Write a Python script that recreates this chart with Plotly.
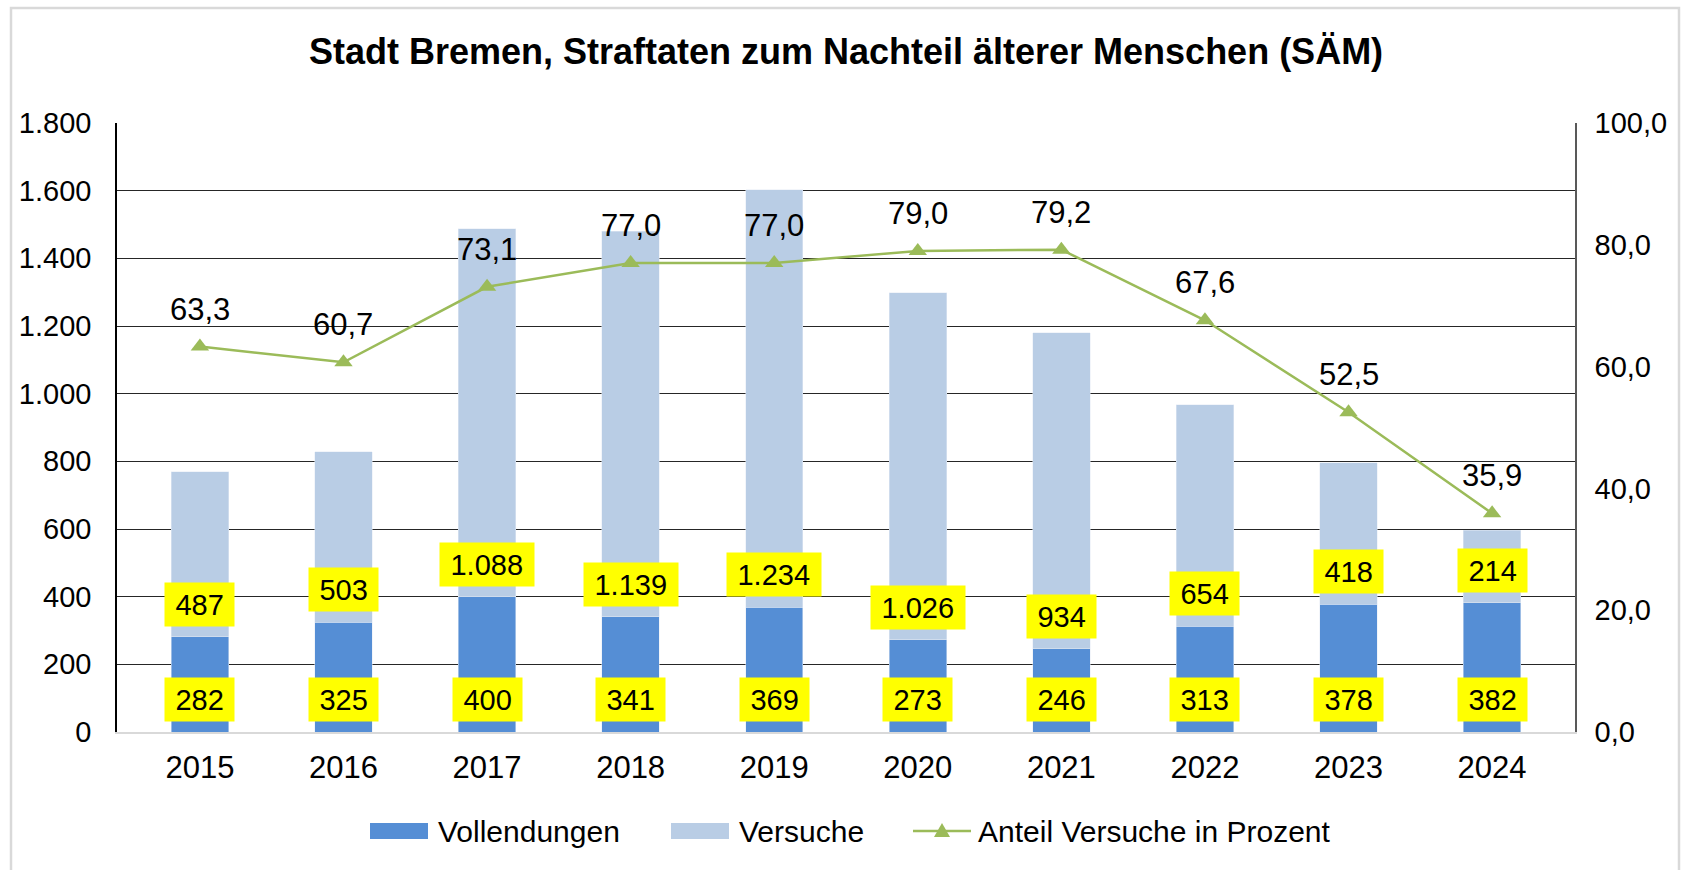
import plotly.graph_objects as go

years = ["2015", "2016", "2017", "2018", "2019", "2020", "2021", "2022", "2023", "2024"]
vollendungen = [282, 325, 400, 341, 369, 273, 246, 313, 378, 382]
versuche = [487, 503, 1088, 1139, 1234, 1026, 934, 654, 418, 214]
anteil = [63.3, 60.7, 73.1, 77.0, 77.0, 79.0, 79.2, 67.6, 52.5, 35.9]
series_names = ["Vollendungen", "Versuche", "Anteil Versuche in Prozent"]

FONT = "Liberation Sans, Arial, sans-serif"
FS = 29
DARK = "#558ED5"
LIGHT = "#B9CDE5"
GREEN = "#9BBB59"

# plot-area geometry in page pixels (used only for layout / legend placement)
L, R, T, B = 117, 1575, 123, 732
PW, PH = R - L, B - T


def px_x(px):
    return (px - L) / PW


def px_y(py):
    return (B - py) / PH


def de_int(v):
    return f"{v:,}".replace(",", ".")


def de_dec(v):
    return f"{v:.1f}".replace(".", ",")


def box_width(s):
    w = 0
    for ch in s:
        w += 0.278 if ch in ".," else 0.556
    return w * FS + 21


fig = go.Figure()
fig.add_trace(go.Bar(x=years, y=vollendungen, name=series_names[0], marker=dict(color=DARK),
                     showlegend=False))
fig.add_trace(go.Bar(x=years, y=versuche, name=series_names[1], marker=dict(color=LIGHT),
                     showlegend=False))
fig.add_trace(go.Scatter(x=years, y=anteil, name=series_names[2], yaxis="y2",
                         mode="lines+markers", showlegend=False,
                         line=dict(color=GREEN, width=2.5),
                         marker=dict(symbol="triangle-up", size=16, color=GREEN)))

annotations = []
# on a category axis, annotation x is the category's serial number
for i, (v, w, p) in enumerate(zip(vollendungen, versuche, anteil)):
    for base, val in ((0, v), (v, w)):
        t = de_int(val)
        annotations.append(dict(x=i, y=base, xref="x", yref="y", text=t, showarrow=False,
                                yanchor="bottom", yshift=10, bgcolor="#FFFF00",
                                width=box_width(t), height=43, borderpad=0,
                                font=dict(family=FONT, size=FS, color="black")))
    annotations.append(dict(x=i, y=p, xref="x", yref="y2", text=de_dec(p), showarrow=False,
                            yanchor="bottom", yshift=18,
                            font=dict(family=FONT, size=31, color="black")))

shapes = [dict(type="rect", xref="paper", yref="paper",
               x0=px_x(11), x1=px_x(1679), y0=px_y(890), y1=px_y(8),
               line=dict(color="#D9D9D9", width=2.5), layer="below")]

# legend (drawn as layout decorations)
LEG_Y = 831
legend_items = [
    dict(kind="box", color=DARK, x0=370, x1=428, text_x=436),
    dict(kind="box", color=LIGHT, x0=671, x1=729, text_x=737),
    dict(kind="line", color=GREEN, x0=913, x1=971, text_x=976),
]
for item, name in zip(legend_items, series_names):
    if item["kind"] == "box":
        shapes.append(dict(type="rect", xref="paper", yref="paper",
                           x0=px_x(item["x0"]), x1=px_x(item["x1"]),
                           y0=px_y(LEG_Y + 8), y1=px_y(LEG_Y - 8),
                           fillcolor=item["color"], line=dict(width=0)))
    else:
        shapes.append(dict(type="line", xref="paper", yref="paper",
                           x0=px_x(item["x0"]), x1=px_x(item["x1"]),
                           y0=px_y(LEG_Y), y1=px_y(LEG_Y),
                           line=dict(color=item["color"], width=2.5)))
        cx = (item["x0"] + item["x1"]) / 2
        shapes.append(dict(type="path", xref="paper", yref="paper",
                           path=(f"M {px_x(cx - 8)} {px_y(LEG_Y + 6)} "
                                 f"L {px_x(cx + 8)} {px_y(LEG_Y + 6)} "
                                 f"L {px_x(cx)} {px_y(LEG_Y - 8)} Z"),
                           fillcolor=item["color"], line=dict(width=0)))
    annotations.append(dict(x=px_x(item["text_x"]), y=px_y(LEG_Y), xref="paper", yref="paper",
                            xanchor="left", yanchor="middle", text=name, showarrow=False,
                            font=dict(family=FONT, size=30, color="black")))

fig.update_layout(
    width=1692, height=870,
    margin=dict(l=L, r=1692 - R, t=T, b=870 - B),
    paper_bgcolor="white", plot_bgcolor="white",
    separators=",.",
    barmode="stack", bargap=0.6,
    showlegend=False,
    font=dict(family=FONT, size=FS, color="black"),
    title=dict(text="<b>Stadt Bremen, Straftaten zum Nachteil älterer Menschen (SÄM)</b>",
               x=0.5, xanchor="center", y=1 - 51 / 870, yanchor="middle",
               font=dict(family=FONT, size=36, color="black")),
    xaxis=dict(type="category", showline=True, linecolor="#D9D9D9", linewidth=2,
               ticks="outside", ticklen=7, tickcolor="rgba(0,0,0,0)",
               tickfont=dict(size=31)),
    yaxis=dict(range=[0, 1800], dtick=200, tickformat=",d",
               showgrid=True, gridcolor="#262626", gridwidth=1, zeroline=False,
               showline=True, linecolor="black", linewidth=1.5,
               ticks="outside", ticklen=18, tickcolor="rgba(0,0,0,0)",
               tickfont=dict(size=FS)),
    yaxis2=dict(range=[0, 100], dtick=20, tickformat=".1f", overlaying="y", side="right",
                showgrid=False, zeroline=False,
                showline=True, linecolor="#595959", linewidth=1.5,
                ticks="outside", ticklen=12, tickcolor="rgba(0,0,0,0)",
                tickfont=dict(size=FS)),
    annotations=annotations,
    shapes=shapes,
)

fig.write_html("out.html", post_script="document.body.style.margin='0';",
               config={"displayModeBar": False})
